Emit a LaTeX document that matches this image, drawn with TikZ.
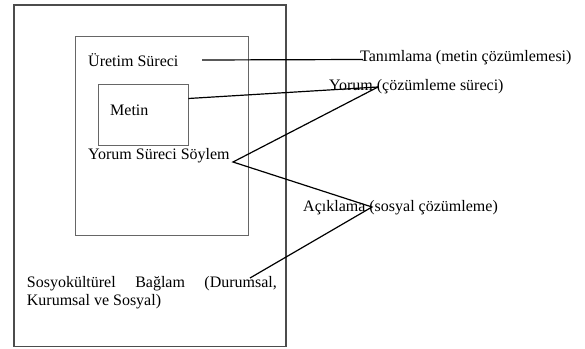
\documentclass[tikz,border=0pt]{standalone}
\usepackage{fontspec}
\setmainfont{Liberation Serif}
\begin{document}
\begin{tikzpicture}[x=1pt,y=-1pt,
  lbl/.style={anchor=base west,inner sep=0pt,font=\fontsize{16}{18.5}\selectfont},
  frame/.style={draw=black!70,line width=1.2pt,inner sep=0pt,minimum width=#1},
  conn/.style={draw=black,line width=1.2pt}]
\useasboundingbox[fill=white] (0,0) rectangle (585,348);
\node[frame=272pt,minimum height=341.5pt] (outer) at (150,175.75) {};
\node[draw=black!60,line width=0.8pt,inner sep=0pt,minimum width=173pt,minimum height=198.3pt] (inner) at (162.2,135.85) {};
\node[draw=black!60,line width=0.8pt,inner sep=0pt,minimum width=90pt,minimum height=60.7pt] (metinbox) at (143.3,114.65) {};
\node[lbl] (uretim) at (88,66.7) {Üretim Süreci};
\node[lbl] (metin) at (110,115) {Metin};
\node[lbl] (soylem) at (88,159.3) {Yorum Süreci Söylem};
\node[lbl] (tanim) at (360,61.7) {Tanımlama (metin çözümlemesi)};
\node[lbl] (yorum) at (329,90) {Yorum (çözümleme süreci)};
\node[lbl] (acik) at (303,211.7) {Açıklama (sosyal çözümleme)};
\node[lbl,text width=250pt,align=justify] (sosyo) at (26.7,287.3) {Sosyokültürel Bağlam (Durumsal,\linebreak Kurumsal ve Sosyal)};
\coordinate (u1) at (202,60);
\coordinate (t1) at (363,59.5);
\coordinate (m1) at (188.3,98.5);
\coordinate (v1) at (378,87);
\coordinate (v2) at (233,162);
\coordinate (v3) at (372,207);
\coordinate (v4) at (250,278);
\draw[conn] (u1) -- (t1);
\draw[conn] (m1) -- (v1);
\draw[conn] (v1) -- (v2) -- (v3) -- (v4);
\end{tikzpicture}
\end{document}
